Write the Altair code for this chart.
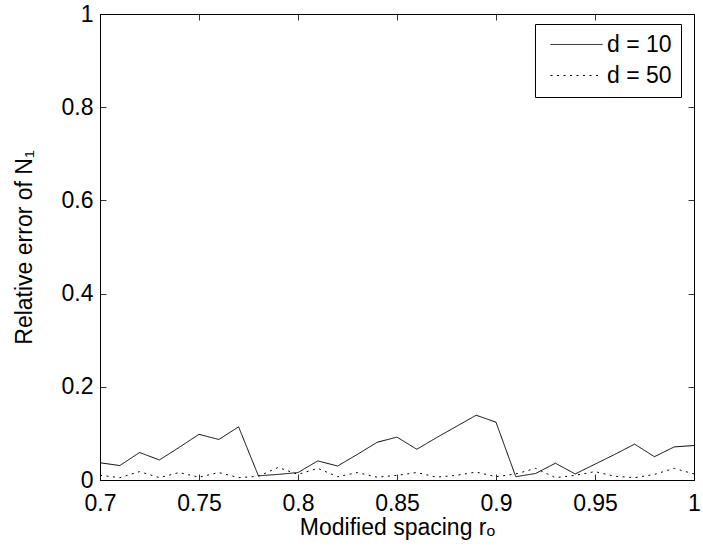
import altair as alt
import pandas as pd

x_vals = [0.70, 0.71, 0.72, 0.73, 0.74, 0.75, 0.76, 0.77, 0.78, 0.79,
          0.80, 0.81, 0.82, 0.83, 0.84, 0.85, 0.86, 0.87, 0.88, 0.89,
          0.90, 0.91, 0.92, 0.93, 0.94, 0.95, 0.96, 0.97, 0.98, 0.99, 1.00]
d10 = [0.037, 0.031, 0.059, 0.043, 0.070, 0.098, 0.087, 0.114, 0.009, 0.012,
       0.016, 0.041, 0.030, 0.055, 0.081, 0.092, 0.066, 0.091, 0.115, 0.139,
       0.124, 0.007, 0.014, 0.036, 0.013, 0.034, 0.055, 0.077, 0.050, 0.071, 0.074]
d50 = [0.010, 0.005, 0.018, 0.005, 0.016, 0.006, 0.016, 0.005, 0.008, 0.027,
       0.012, 0.025, 0.007, 0.016, 0.006, 0.010, 0.016, 0.006, 0.010, 0.017,
       0.007, 0.013, 0.025, 0.005, 0.010, 0.018, 0.008, 0.005, 0.012, 0.025, 0.013]
series_names = ["d = 10", "d = 50"]
x_ticks = [0.7, 0.75, 0.8, 0.85, 0.9, 0.95, 1.0]
y_ticks = [0, 0.2, 0.4, 0.6, 0.8, 1.0]

rows = []
for xv, a, b in zip(x_vals, d10, d50):
    rows.append({"x": xv, "y": a, "series": series_names[0]})
    rows.append({"x": xv, "y": b, "series": series_names[1]})
df = pd.DataFrame(rows)

FONT = "Liberation Sans"
FS = 23

xscale = alt.Scale(domain=[0.7, 1.0], nice=False, zero=False)
yscale = alt.Scale(domain=[0, 1], nice=False)

lines = alt.Chart(df).mark_line(color="black", strokeWidth=1, clip=True).encode(
    x=alt.X("x:Q", scale=xscale,
            axis=alt.Axis(values=x_ticks, title="Modified spacing rₒ", orient="bottom",
                          tickSize={"expr": "-6"}, labelPadding=18, titlePadding=1,
                          labelFlush=False, labelExpr="format(datum.value, '.2~f')")),
    y=alt.Y("y:Q", scale=yscale,
            axis=alt.Axis(values=y_ticks, title="Relative error of N₁", orient="left",
                          tickSize={"expr": "-6"}, labelPadding=13, titlePadding=25,
                          labelFlush=False, labelExpr="format(datum.value, '.1~f')")),
    strokeDash=alt.StrokeDash(
        "series:N",
        scale=alt.Scale(domain=series_names, range=[[1, 0], [2, 4.5]]),
        legend=alt.Legend(title=None, orient="none", legendX=435, legendY=10,
                          symbolType="M-1,0H9.4", symbolSize=100, symbolStrokeWidth=1,
                          symbolStrokeColor="black", labelFont=FONT, labelFontSize=FS,
                          labelColor="black", fillColor="white", strokeColor="black",
                          padding=9, rowPadding=7, symbolOffset=0, labelOffset=40),
    ),
)

frame_axes = alt.Chart(df).mark_point(opacity=0).encode(
    x=alt.X("x:Q", scale=xscale,
            axis=alt.Axis(values=x_ticks, title=None, orient="top", labels=False,
                          tickSize={"expr": "-6"}, domain=False)),
    y=alt.Y("y:Q", scale=yscale,
            axis=alt.Axis(values=y_ticks, title=None, orient="right", labels=False,
                          tickSize={"expr": "-6"}, domain=False)),
)

chart = alt.layer(lines, frame_axes).resolve_axis(x="independent", y="independent").properties(
    width=594, height=466,
    autosize=alt.AutoSizeParams(type="none"),
    padding={"left": 100, "top": 14, "right": 9, "bottom": 73},
    background="white",
).configure_view(stroke="black", strokeWidth=1).configure_axis(
    grid=False, domainColor="black", domainWidth=1, tickColor="black", tickWidth=0.8,
    labelFont=FONT, labelFontSize=FS, labelColor="black",
    titleFont=FONT, titleFontSize=FS, titleFontWeight="normal", titleColor="black",
)

chart.save("out.html", embed_options={"renderer": "svg", "actions": False})
